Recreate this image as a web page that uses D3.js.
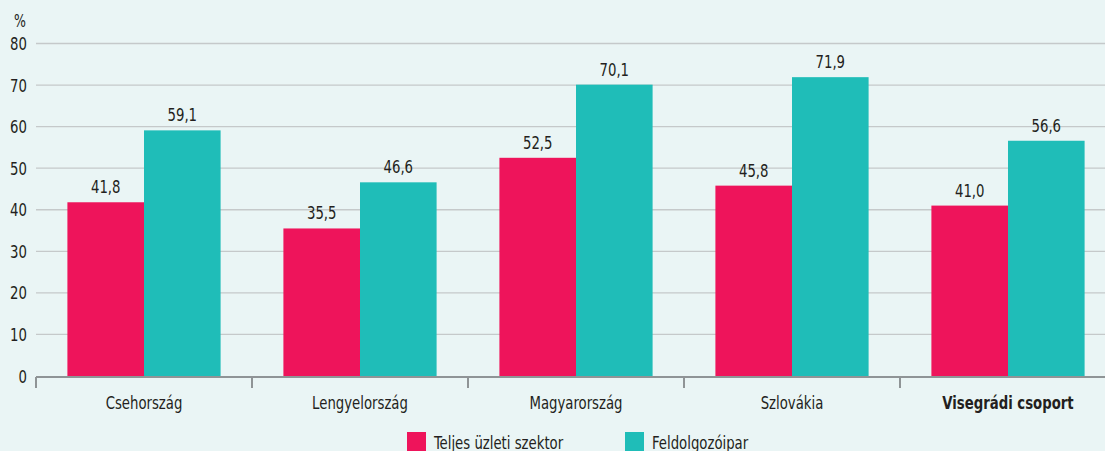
<!DOCTYPE html>
<html>
<head>
<meta charset="utf-8">
<script src="https://cdn.jsdelivr.net/npm/d3@7"></script>
<style>
  html, body { margin: 0; padding: 0; background: #eaf5f5; }
  svg { display: block; }
  text { font-family: "DejaVu Sans Condensed", "DejaVu Sans", sans-serif; font-stretch: condensed; fill: #231f20; font-size: 18px; }
</style>
</head>
<body>
<div id="chart"></div>
<script>
var categories = ["Csehország", "Lengyelország", "Magyarország", "Szlovákia", "Visegrádi csoport"];
var seriesNames = ["Teljes üzleti szektor", "Feldolgozóipar"];
var teljes = [41.8, 35.5, 52.5, 45.8, 41.0];
var feldolgozo = [59.1, 46.6, 70.1, 71.9, 56.6];
var yTicks = [0, 10, 20, 30, 40, 50, 60, 70, 80];

var colors = ["#ee145b", "#1fbdb8"];
var squeeze = 0.82; // narrow the text like the condensed original font

var width = 1105, height = 451;
var svg = d3.select("#chart").append("svg")
  .attr("width", width)
  .attr("height", height);

// place a text at (x, y) and squeeze it horizontally
function place(x, y) {
  return "translate(" + x + "," + y + ") scale(" + squeeze + ",1)";
}

// plot area
var x0 = d3.scaleBand()
  .domain(categories)
  .range([36, 1116])
  .paddingInner(0)
  .paddingOuter(0);

var x1 = d3.scaleBand()
  .domain([0, 1])
  .range([0, x0.bandwidth()])
  .paddingOuter(0.41);

var y = d3.scaleLinear()
  .domain([0, 80])
  .range([376, 43.5]);

// gridlines
svg.selectAll("line.grid")
  .data(yTicks.filter(function(d) { return d > 0; }))
  .enter().append("line")
    .attr("class", "grid")
    .attr("x1", 36)
    .attr("x2", width)
    .attr("y1", function(d) { return y(d); })
    .attr("y2", function(d) { return y(d); })
    .attr("stroke", "#c5c9ca")
    .attr("stroke-width", 1.3);

// y tick labels
svg.selectAll("text.ytick")
  .data(yTicks)
  .enter().append("text")
    .attr("class", "ytick")
    .attr("transform", function(d) { return place(27, y(d) + 6.5); })
    .attr("text-anchor", "end")
    .text(function(d) { return d; });

svg.append("text")
  .attr("transform", place(20, 27))
  .attr("text-anchor", "middle")
  .style("font-size", "17px")
  .text("%");

// bars
var data = categories.map(function(c, i) {
  return { cat: c, vals: [teljes[i], feldolgozo[i]] };
});

var groups = svg.selectAll("g.group")
  .data(data)
  .enter().append("g")
    .attr("class", "group")
    .attr("transform", function(d) { return "translate(" + x0(d.cat) + ",0)"; });

groups.selectAll("rect")
  .data(function(d) { return d.vals; })
  .enter().append("rect")
    .attr("x", function(d, i) { return x1(i); })
    .attr("width", x1.bandwidth())
    .attr("y", function(d) { return y(d); })
    .attr("height", function(d) { return y(0) - y(d); })
    .attr("fill", function(d, i) { return colors[i]; });

groups.selectAll("text.val")
  .data(function(d) { return d.vals; })
  .enter().append("text")
    .attr("class", "val")
    .attr("transform", function(d, i) { return place(x1(i) + x1.bandwidth() / 2, y(d) - 9); })
    .attr("text-anchor", "middle")
    .text(function(d) { return d.toFixed(1).replace(".", ","); });

// x axis line and ticks
svg.append("line")
  .attr("x1", 36)
  .attr("x2", width)
  .attr("y1", y(0) + 1)
  .attr("y2", y(0) + 1)
  .attr("stroke", "#8f9496")
  .attr("stroke-width", 2);

svg.selectAll("line.xtick")
  .data(categories)
  .enter().append("line")
    .attr("class", "xtick")
    .attr("x1", function(d) { return x0(d); })
    .attr("x2", function(d) { return x0(d); })
    .attr("y1", y(0) + 1)
    .attr("y2", y(0) + 12)
    .attr("stroke", "#8f9496")
    .attr("stroke-width", 2);

svg.selectAll("text.xlab")
  .data(categories)
  .enter().append("text")
    .attr("class", "xlab")
    .attr("transform", function(d) { return place(x0(d) + x0.bandwidth() / 2, 409); })
    .attr("text-anchor", "middle")
    .style("font-weight", function(d, i) { return i === categories.length - 1 ? "bold" : "normal"; })
    .text(function(d) { return d; });

// legend
var legendX = [407, 625];
var legend = svg.selectAll("g.legend")
  .data(seriesNames)
  .enter().append("g")
    .attr("class", "legend")
    .attr("transform", function(d, i) { return "translate(" + legendX[i] + ",432)"; });

legend.append("rect")
  .attr("width", 19)
  .attr("height", 19)
  .attr("fill", function(d, i) { return colors[i]; });

legend.append("text")
  .attr("transform", place(27, 16.5))
  .text(function(d) { return d; });
</script>
</body>
</html>
